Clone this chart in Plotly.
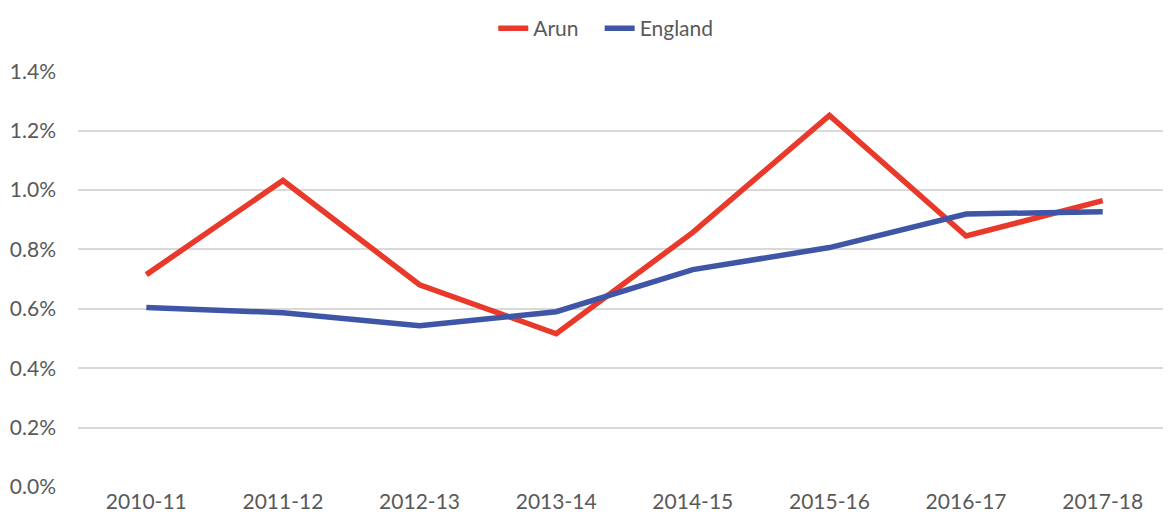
import plotly.graph_objects as go

years = ['2010-11', '2011-12', '2012-13', '2013-14', '2014-15', '2015-16', '2016-17', '2017-18']
arun = [0.715, 1.032, 0.681, 0.516, 0.857, 1.251, 0.845, 0.964]
england = [0.604, 0.587, 0.543, 0.590, 0.732, 0.806, 0.919, 0.927]
y_ticks = [0.0, 0.2, 0.4, 0.6, 0.8, 1.0, 1.2, 1.4]

fig = go.Figure()

# 两条折线
fig.add_trace(go.Scatter(
    x=years, y=arun, mode='lines', name='Arun   ',
    line=dict(color='#E8392A', width=5.5),
))
fig.add_trace(go.Scatter(
    x=years, y=england, mode='lines', name='England',
    line=dict(color='#3F56A6', width=5.5),
))

# 页面自带 8px 边距，所以图宽高各减 8
fig.update_layout(
    width=1163, height=524,
    margin=dict(l=70, r=0, t=63, b=45),
    paper_bgcolor='white', plot_bgcolor='white',
    font=dict(family='Lato, Noto Sans, sans-serif', size=21, color='#595959'),
    legend=dict(
        orientation='h', xref='container', yref='container',
        x=0.514, xanchor='center', y=1.0, yanchor='top',
        borderwidth=0, bgcolor='rgba(0,0,0,0)',
        font=dict(size=21, color='#595959'),
    ),
    xaxis=dict(
        type='category', range=[-0.5, 7.5],
        showgrid=False, showline=False, ticks='',
        tickfont=dict(size=21, color='#595959'),
    ),
    yaxis=dict(
        range=[0, 1.4005],
        tickvals=y_ticks,
        ticktext=[f'{v:.1f}%' for v in y_ticks],
        showgrid=True, gridcolor='#D9D9D9', gridwidth=1.5,
        zeroline=False, showline=False, ticks='',
        ticklabelstandoff=21,
        tickfont=dict(size=21, color='#595959'),
    ),
)

fig.write_html('out.html')
